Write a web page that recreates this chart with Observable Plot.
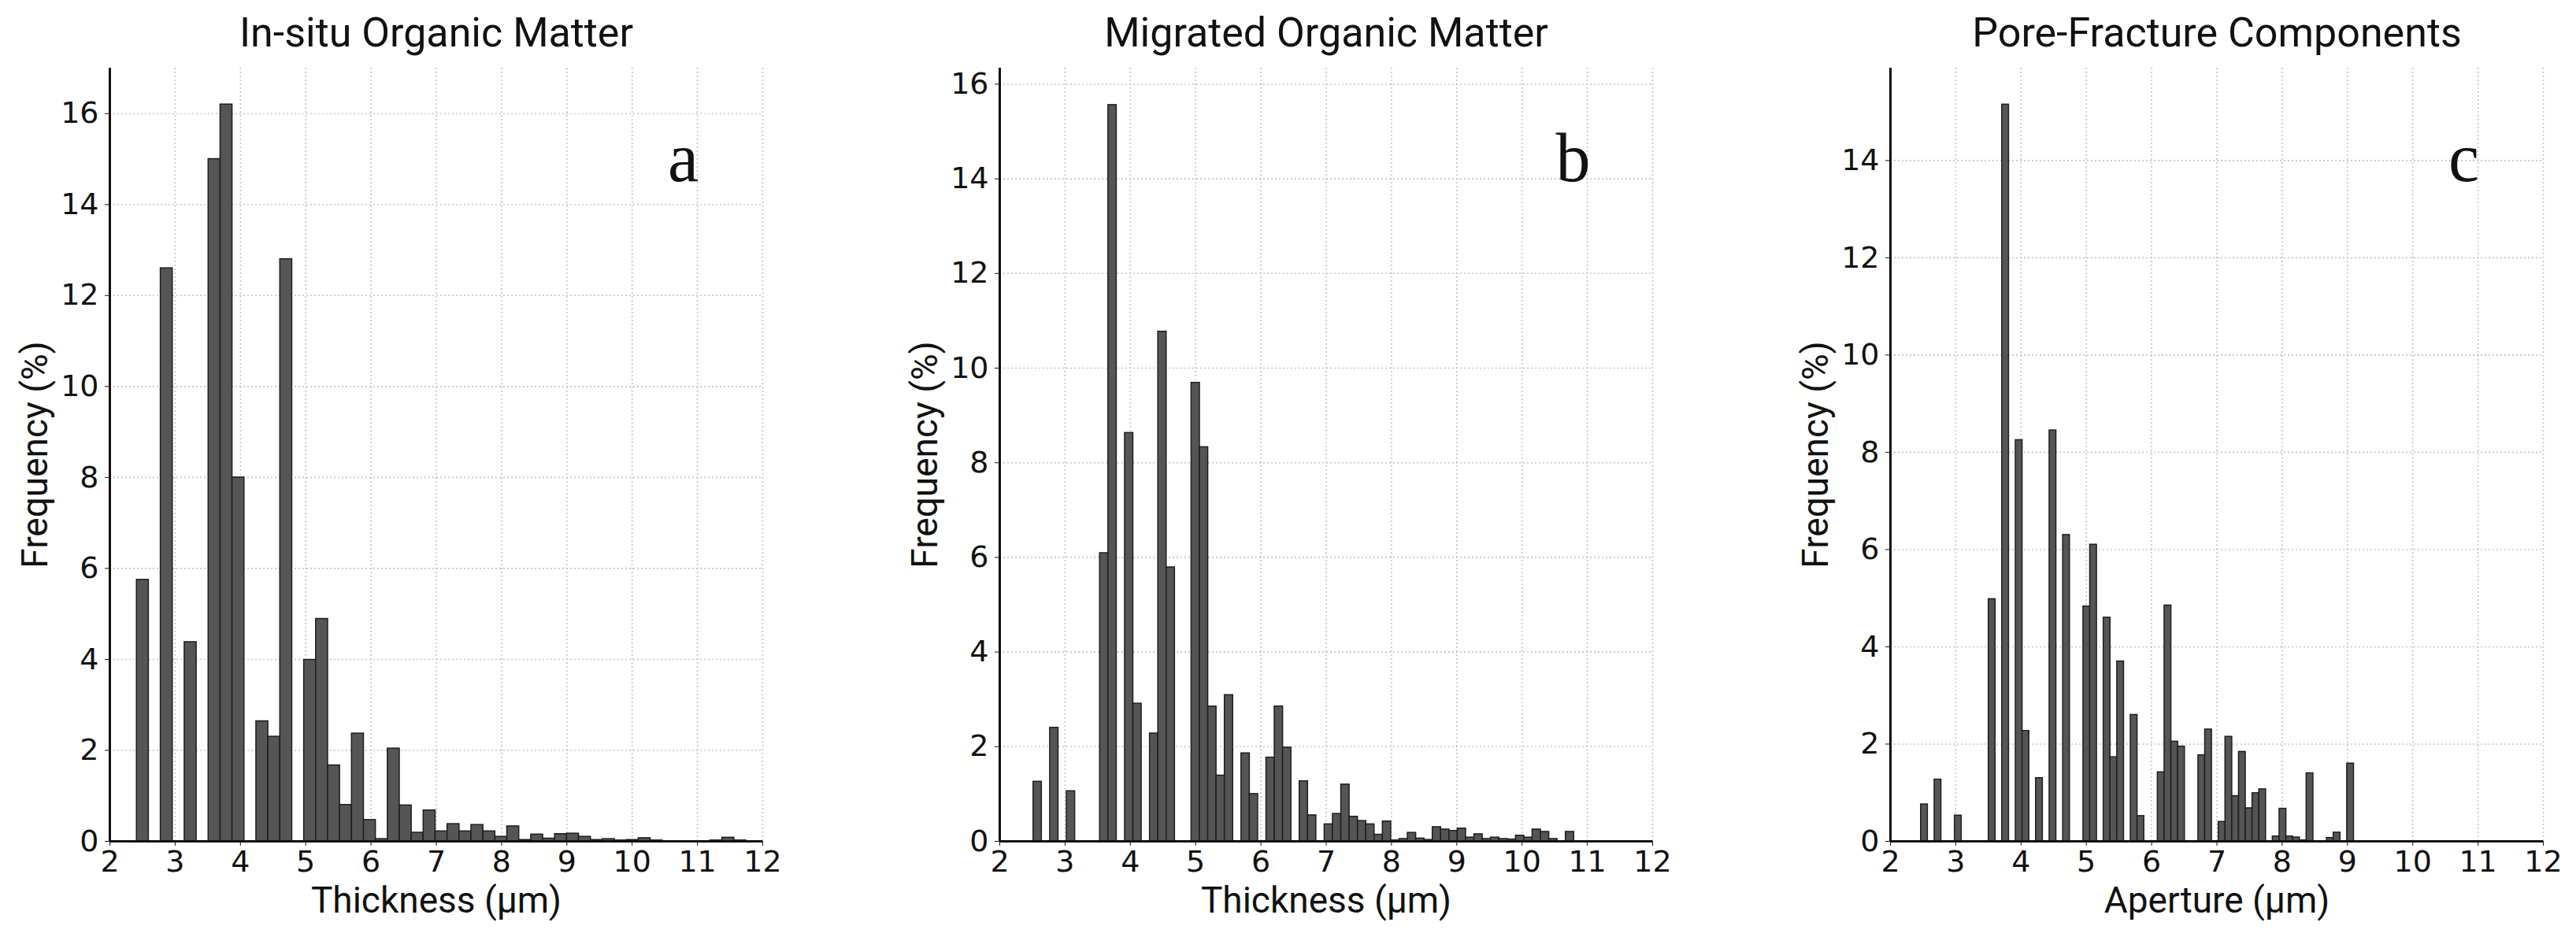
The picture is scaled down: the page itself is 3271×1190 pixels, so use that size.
<!DOCTYPE html>
<html>
<head>
<meta charset="utf-8">
<script src="https://cdn.jsdelivr.net/npm/d3@7"></script>
<script src="https://cdn.jsdelivr.net/npm/@observablehq/plot@0.6"></script>
<style>
  body { margin: 0; background: #fff; }
  #wrap { position: relative; width: 3271px; height: 1190px; background: #fff; }
  .panel { position: absolute; top: 0; }
</style>
</head>
<body>
<div id="wrap"></div>
<script>
// ---- Data ----
const titles = ["In-situ Organic Matter", "Migrated Organic Matter", "Pore-Fracture Components"];
const letters = ["a", "b", "c"];
const xLabels = ["Thickness (µm)", "Thickness (µm)", "Aperture (µm)"];
const xTickValues = [2, 3, 4, 5, 6, 7, 8, 9, 10, 11, 12];
const yTicksA = [0, 2, 4, 6, 8, 10, 12, 14, 16];
const yTicksB = [0, 2, 4, 6, 8, 10, 12, 14, 16];
const yTicksC = [0, 2, 4, 6, 8, 10, 12, 14];

// histogram bins: first bin edge and bin width (µm)
const binStartA = 2.413, binWidthA = 0.183;
const binStartB = 2.516, binWidthB = 0.1274;
const binStartC = 2.468, binWidthC = 0.1036;

// frequency (%) per bin
const freqA = [5.75, 0, 12.6, 0, 4.38, 0, 15.0, 16.2, 8.0, 0, 2.64, 2.30, 12.8, 0, 3.99, 4.89, 1.67, 0.80, 2.37, 0.47,
  0.05, 2.04, 0.79, 0.19, 0.68, 0.22, 0.38, 0.22, 0.36, 0.22, 0.10, 0.33, 0.03, 0.15, 0.06, 0.16, 0.17, 0.10, 0.03, 0.05,
  0.02, 0.03, 0.07, 0.02, 0, 0, 0, 0, 0.02, 0.08, 0.02];
const freqB = [1.26, 0, 2.40, 0, 1.06, 0, 0, 0, 6.09, 15.56, 0, 8.63, 2.91, 0, 2.28, 10.77, 5.79, 0, 0, 9.69,
  8.33, 2.85, 1.39, 3.09, 0, 1.86, 1.0, 0, 1.77, 2.85, 1.98, 0, 1.27, 0.55, 0, 0.36, 0.58, 1.2, 0.52, 0.43,
  0.36, 0.14, 0.42, 0.02, 0.05, 0.18, 0.06, 0.03, 0.3, 0.25, 0.22, 0.27, 0.08, 0.15, 0.05, 0.08, 0.05, 0.04, 0.12, 0.08,
  0.25, 0.2, 0.05, 0, 0.2];
const freqC = [0.76, 0, 1.27, 0, 0, 0.53, 0, 0, 0, 0, 4.98, 0, 15.15, 0, 8.25, 2.27, 0, 1.30, 0, 8.45,
  0, 6.3, 0, 0, 4.83, 6.1, 0, 4.6, 1.73, 3.7, 0, 2.6, 0.52, 0, 0, 1.42, 4.85, 2.05, 1.95, 0,
  0, 1.77, 2.3, 0, 0.4, 2.15, 0.93, 1.84, 0.68, 0.99, 1.07, 0, 0.1, 0.67, 0.1, 0.08, 0.02, 1.40, 0, 0,
  0.07, 0.18, 0, 1.6];

const yMaxA = 17.0, yMaxB = 16.34, yMaxC = 15.9;

// ---- Drawing ----
function panel(title, letter, xLabel, freq, start, width, yMax, yTicks) {
  const bins = freq.map((f, i) => ({x1: start + i * width, x2: start + (i + 1) * width, f}))
                   .filter(d => d.f > 0);
  const gridStyle = {stroke: "#b8b8b8", strokeWidth: 1.6, strokeDasharray: "2,3", strokeOpacity: 0.8};
  return Plot.plot({
    width: 1010, height: 1190,
    marginLeft: 139, marginRight: 42, marginTop: 86, marginBottom: 122,
    style: {background: "white", fontFamily: "'DejaVu Sans', sans-serif", color: "#111"},
    x: {domain: [2, 12]},
    y: {domain: [0, yMax]},
    marks: [
      Plot.gridX({ticks: xTickValues, ...gridStyle}),
      Plot.gridY({ticks: yTicks, ...gridStyle}),
      Plot.rectY(bins, {x1: "x1", x2: "x2", y: "f", fill: "#555555", stroke: "#1e1e1e", strokeWidth: 1.5}),
      Plot.axisX({ticks: xTickValues, tickSize: 6, tickPadding: 6, fontSize: 38, label: null, tickFormat: d => String(d)}),
      Plot.axisY({ticks: yTicks, tickSize: 6, tickPadding: 8, fontSize: 38, label: null, tickFormat: d => String(d)}),
      Plot.ruleX([2], {stroke: "#111", strokeWidth: 3}),
      Plot.ruleY([0], {stroke: "#111", strokeWidth: 3}),
      Plot.text([title], {frameAnchor: "top", dy: -44, fontSize: 52, fontFamily: "Roboto", textAnchor: "middle", lineAnchor: "middle", fill: "#111"}),
      Plot.text([xLabel], {frameAnchor: "bottom", dy: 76, fontSize: 46, fontFamily: "Roboto", textAnchor: "middle", lineAnchor: "middle", fill: "#111"}),
      Plot.text(["Frequency (%)"], {frameAnchor: "left", dx: -94, rotate: -90, fontSize: 46, fontFamily: "Roboto", textAnchor: "middle", lineAnchor: "middle", fill: "#111"}),
      Plot.text([letter], {frameAnchor: "top-left", dx: 728, dy: 143, fontSize: 88, fontFamily: "'Liberation Serif', serif", textAnchor: "middle", lineAnchor: "bottom", fill: "#111"})
    ]
  });
}

const wrap = document.getElementById("wrap");
const specs = [
  [titles[0], letters[0], xLabels[0], freqA, binStartA, binWidthA, yMaxA, yTicksA],
  [titles[1], letters[1], xLabels[1], freqB, binStartB, binWidthB, yMaxB, yTicksB],
  [titles[2], letters[2], xLabels[2], freqC, binStartC, binWidthC, yMaxC, yTicksC]
];
const lefts = [0, 1130, 2261];
specs.forEach((s, i) => {
  const svg = panel(...s);
  const div = document.createElement("div");
  div.className = "panel";
  div.style.left = lefts[i] + "px";
  div.appendChild(svg);
  wrap.appendChild(div);
});
</script>
</body>
</html>
